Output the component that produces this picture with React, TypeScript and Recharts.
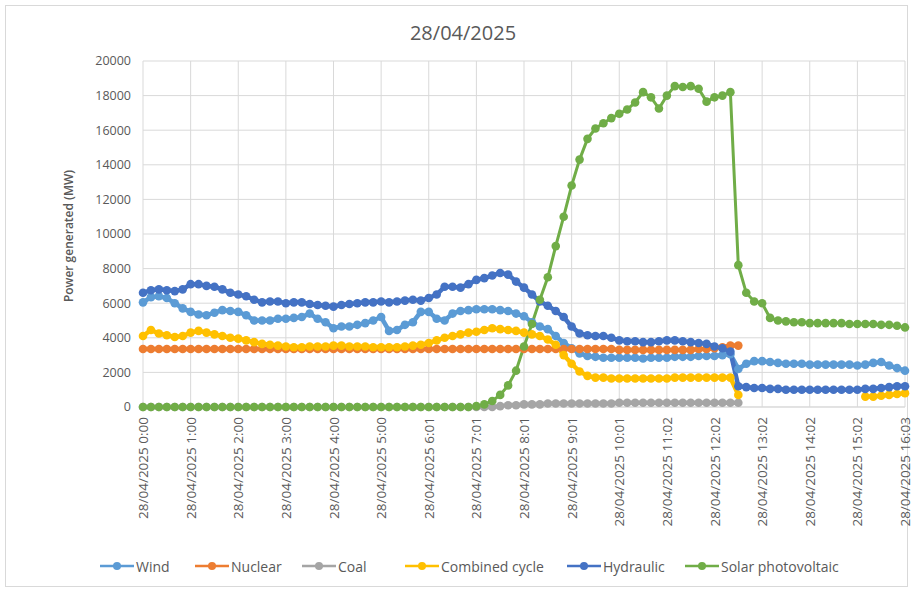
import { LineChart, Line, XAxis, YAxis, CartesianGrid, Legend } from 'recharts';

// minutes after midnight, 10-minute readings
const TIMES = [
    0, 10, 20, 30, 40, 50,
    60, 70, 80, 90, 100, 110,
    120, 130, 140, 150, 160, 170,
    180, 190, 200, 210, 220, 230,
    240, 250, 260, 270, 280, 290,
    300, 310, 320, 330, 340, 350,
    360, 370, 380, 390, 400, 410,
    420, 430, 440, 450, 460, 470,
    480, 490, 500, 510, 520, 530,
    540, 550, 560, 570, 580, 590,
    600, 610, 620, 630, 640, 650,
    660, 670, 680, 690, 700, 710,
    720, 730, 740, 750, 760, 770,
    780, 790, 800, 810, 820, 830,
    840, 850, 860, 870, 880, 890,
    900, 910, 920, 930, 940, 950,
    960,
];

const TICK_MINUTES = [0, 60, 120, 180, 240, 300, 360, 420, 480, 540, 600, 660, 720, 780, 840, 900, 960];
const TICK_LABELS = [
    '28/04/2025 0:00', '28/04/2025 1:00', '28/04/2025 2:00', '28/04/2025 3:00',
    '28/04/2025 4:00', '28/04/2025 5:00', '28/04/2025 6:01', '28/04/2025 7:01',
    '28/04/2025 8:01', '28/04/2025 9:01', '28/04/2025 10:01', '28/04/2025 11:02',
    '28/04/2025 12:02', '28/04/2025 13:02', '28/04/2025 14:02', '28/04/2025 15:02',
    '28/04/2025 16:03',
];
const Y_TICKS = [0, 2000, 4000, 6000, 8000, 10000, 12000, 14000, 16000, 18000, 20000];

const WIND = [
    6050, 6350, 6400, 6300, 6000, 5700,
    5500, 5350, 5300, 5450, 5600, 5550,
    5500, 5300, 5000, 5000, 5000, 5100,
    5100, 5150, 5200, 5400, 5100, 4900,
    4550, 4650, 4650, 4750, 4850, 5000,
    5200, 4400, 4450, 4750, 4900, 5500,
    5500, 5100, 5000, 5400, 5550, 5600,
    5650, 5650, 5650, 5600, 5550, 5400,
    5250, 4900, 4650, 4500, 4100, 3700,
    3400, 3100, 2950, 2900, 2850, 2850,
    2850, 2850, 2850, 2800, 2850, 2850,
    2850, 2900, 2900, 2900, 2950, 2950,
    2950, 3000, 3050, 2200, 2500, 2650,
    2650, 2600, 2550, 2500, 2500, 2500,
    2450, 2450, 2450, 2450, 2450, 2450,
    2400, 2450, 2550, 2600, 2400, 2250,
    2100,
];

const NUCLEAR = [
    3350, 3350, 3350, 3350, 3350, 3350,
    3350, 3350, 3350, 3350, 3350, 3350,
    3350, 3350, 3350, 3350, 3350, 3350,
    3350, 3350, 3350, 3350, 3350, 3350,
    3350, 3350, 3350, 3350, 3350, 3350,
    3350, 3350, 3350, 3350, 3350, 3350,
    3350, 3350, 3350, 3350, 3350, 3350,
    3350, 3350, 3350, 3350, 3350, 3350,
    3350, 3350, 3350, 3350, 3350, 3350,
    3350, 3350, 3350, 3350, 3350, 3350,
    3300, 3300, 3300, 3300, 3300, 3300,
    3300, 3300, 3300, 3300, 3350, 3350,
    3400, 3450, 3550, 3550, null, null,
    null, null, null, null, null, null,
    null, null, null, null, null, null,
    null, null, null, null, null, null,
    null,
];

const COAL = [
    0, 0, 0, 0, 0, 0,
    0, 0, 0, 0, 0, 0,
    0, 0, 0, 0, 0, 0,
    0, 0, 0, 0, 0, 0,
    0, 0, 0, 0, 0, 0,
    0, 0, 0, 0, 0, 0,
    0, 0, 0, 0, 0, 0,
    0, 0, 0, 50, 100, 100,
    150, 150, 150, 200, 200, 200,
    200, 200, 200, 200, 200, 200,
    250, 250, 250, 250, 250, 250,
    250, 250, 250, 250, 250, 250,
    250, 250, 250, 250, null, null,
    null, null, null, null, null, null,
    null, null, null, null, null, null,
    null, null, null, null, null, null,
    null,
];

const COMBINED_CYCLE = [
    4100, 4450, 4250, 4150, 4050, 4100,
    4300, 4400, 4300, 4200, 4100, 4000,
    3950, 3850, 3750, 3650, 3600, 3550,
    3500, 3450, 3450, 3500, 3500, 3500,
    3550, 3550, 3500, 3500, 3500, 3450,
    3450, 3450, 3450, 3500, 3550, 3600,
    3700, 3850, 4000, 4100, 4200, 4300,
    4350, 4450, 4550, 4500, 4450, 4400,
    4300, 4200, 4100, 3900, 3600, 3000,
    2500, 2050, 1800, 1700, 1700, 1650,
    1650, 1650, 1650, 1650, 1650, 1650,
    1650, 1700, 1700, 1700, 1700, 1700,
    1700, 1700, 1700, 700, null, null,
    null, null, null, null, null, null,
    null, null, null, null, null, null,
    null, 600, 600, 650, 700, 750,
    800,
];

const HYDRAULIC = [
    6600, 6750, 6800, 6750, 6700, 6800,
    7100, 7100, 7000, 6950, 6800, 6600,
    6500, 6400, 6200, 6050, 6100, 6100,
    6000, 6050, 6050, 5950, 5900, 5850,
    5800, 5900, 5950, 6000, 6050, 6050,
    6100, 6050, 6100, 6150, 6200, 6150,
    6300, 6500, 6950, 6950, 6900, 7100,
    7350, 7450, 7600, 7750, 7650, 7250,
    6900, 6500, 6100, 5850, 5550, 5200,
    4650, 4250, 4150, 4100, 4100, 4000,
    3850, 3800, 3800, 3750, 3750, 3800,
    3850, 3850, 3800, 3750, 3700, 3650,
    3500, 3400, 3200, 1200, 1150, 1100,
    1100, 1050, 1050, 1000, 1000, 1000,
    1000, 1000, 1000, 1000, 1000, 1000,
    1000, 1050, 1050, 1100, 1150, 1200,
    1200,
];

const SOLAR = [
    0, 0, 0, 0, 0, 0,
    0, 0, 0, 0, 0, 0,
    0, 0, 0, 0, 0, 0,
    0, 0, 0, 0, 0, 0,
    0, 0, 0, 0, 0, 0,
    0, 0, 0, 0, 0, 0,
    0, 0, 0, 0, 0, 0,
    50, 150, 350, 700, 1250, 2100,
    3500, 4800, 6200, 7500, 9300, 11000,
    12800, 14300, 15500, 16100, 16400, 16700,
    16950, 17200, 17600, 18200, 17900, 17250,
    18000, 18550, 18500, 18550, 18400, 17650,
    17900, 18000, 18200, 8200, 6600, 6100,
    6000, 5150, 5000, 4950, 4900, 4900,
    4850, 4850, 4850, 4850, 4850, 4800,
    4800, 4800, 4800, 4750, 4750, 4700,
    4600,
];

const SERIES = [
    { key: 'wind', name: 'Wind', color: '#5B9BD5', values: WIND, width: 4.5 },
    { key: 'nuclear', name: 'Nuclear', color: '#ED7D31', values: NUCLEAR, width: 4.5 },
    { key: 'coal', name: 'Coal', color: '#A5A5A5', values: COAL, width: 4.5 },
    { key: 'cc', name: 'Combined cycle', color: '#FFC000', values: COMBINED_CYCLE, width: 4.5 },
    { key: 'hydro', name: 'Hydraulic', color: '#4472C4', values: HYDRAULIC, width: 4.5 },
    { key: 'solar', name: 'Solar photovoltaic', color: '#70AD47', values: SOLAR, width: 3 },
];

// where each legend entry starts (Excel spaces them unevenly)
const LEGEND_X = [100, 195, 302, 405, 567, 685];

const FONT = '"Open Sans", "Noto Sans", sans-serif';
const TEXT = '#595959';

const XTick = ({ x, y, index }: { x?: number; y?: number; index?: number }) => (
    <text
        x={x}
        y={y}
        transform={`rotate(-90, ${x}, ${y})`}
        textAnchor="end"
        dominantBaseline="central"
        fontSize={13.5}
        fontFamily={FONT}
        fill={TEXT}
    >
        {TICK_LABELS[index ?? 0]}
    </text>
);

const LegendContent = () => (
    <div style={{ position: 'relative', height: 24, width: 913 }}>
        {SERIES.map((s, i) => (
            <div
                key={s.key}
                style={{ position: 'absolute', left: LEGEND_X[i], top: 0, height: 24, display: 'flex', alignItems: 'center' }}
            >
                <svg width={34} height={10}>
                    <line x1={0} y1={5} x2={34} y2={5} stroke={s.color} strokeWidth={2.5} />
                    <circle cx={17} cy={5} r={4} fill={s.color} />
                </svg>
                <span style={{ marginLeft: 2, fontSize: 14, color: TEXT, fontFamily: FONT }}>{s.name}</span>
            </div>
        ))}
    </div>
);

export default function App() {
    const data = TIMES.map((t, i) => {
        const row: Record<string, number | null> = { t };
        SERIES.forEach(s => { row[s.key] = s.values[i]; });
        return row;
    });

    return (
        <div style={{ position: 'absolute', left: 0, top: 0, width: 913, height: 590, background: '#fff', fontFamily: FONT }}>
            <div style={{ position: 'absolute', left: 5, top: 5, width: 903, height: 582, border: '1px solid #d9d9d9', boxSizing: 'border-box' }} />

            <LineChart width={913} height={590} data={data} margin={{ top: 61, right: 8, left: 63, bottom: 12 }}>
                <CartesianGrid stroke="#d9d9d9" strokeWidth={1} />
                <XAxis
                    dataKey="t"
                    type="number"
                    domain={[0, 960]}
                    ticks={TICK_MINUTES}
                    interval={0}
                    tick={<XTick />}
                    tickLine={false}
                    tickMargin={4}
                    axisLine={{ stroke: '#d9d9d9' }}
                    height={147}
                />
                <YAxis
                    width={80}
                    domain={[0, 20000]}
                    ticks={Y_TICKS}
                    interval={0}
                    tickLine={false}
                    axisLine={false}
                    tickMargin={6}
                    tick={{ fontSize: 12.5, fill: TEXT, fontFamily: FONT }}
                />
                <Legend verticalAlign="bottom" height={24} wrapperStyle={{ left: 0, width: 913 }} content={<LegendContent />} />
                {SERIES.map(s => (
                    <Line
                        key={s.key}
                        type="linear"
                        dataKey={s.key}
                        name={s.name}
                        stroke={s.color}
                        strokeWidth={s.width}
                        dot={{ r: 4.3, fill: s.color, stroke: s.color, strokeWidth: 0 }}
                        activeDot={false}
                        isAnimationActive={false}
                    />
                ))}
            </LineChart>

            <div style={{ position: 'absolute', left: 0, top: 19, width: 926, textAlign: 'center', fontSize: 20, color: TEXT }}>
                28/04/2025
            </div>
            <div
                style={{
                    position: 'absolute', left: 68, top: 236, transform: 'translate(-50%, -50%) rotate(-90deg)',
                    whiteSpace: 'nowrap', fontSize: 12, fontWeight: 600, color: TEXT,
                }}
            >
                Power generated (MW)
            </div>
        </div>
    );
}
